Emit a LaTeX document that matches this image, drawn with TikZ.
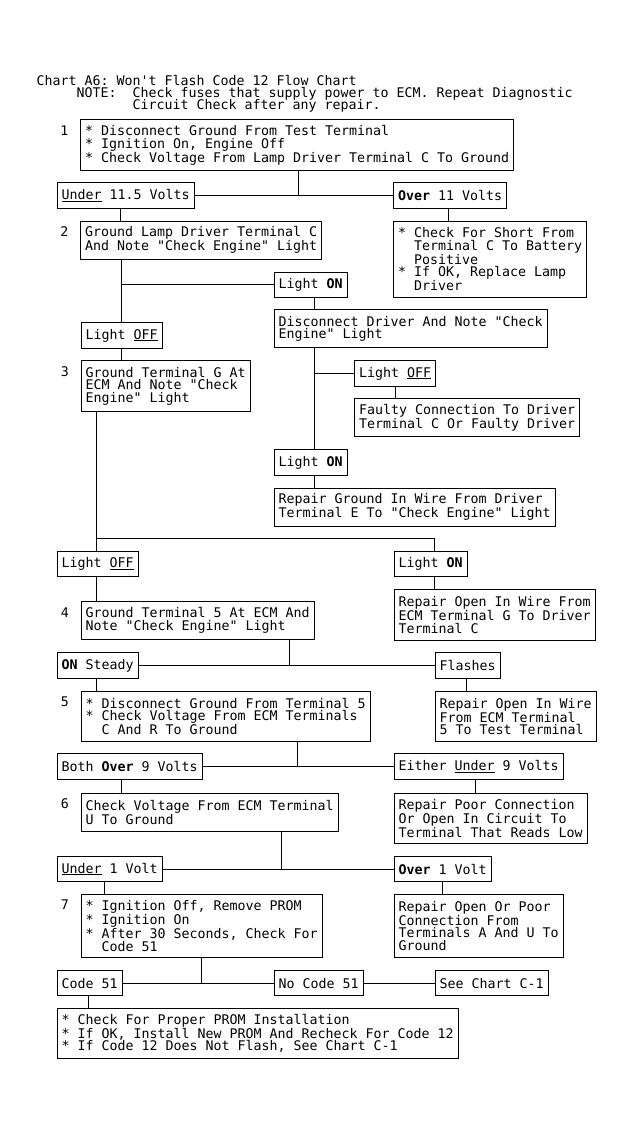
\documentclass[tikz,border=0pt]{standalone}
\usepackage{fontspec}
\newfontfamily\mf{DejaVu Sans Mono}
\usetikzlibrary{calc}
\newcommand\mfont{\mf\fontsize{13.29bp}{12.7bp}\selectfont\frenchspacing}
\newcommand\ind{\hspace*{16bp}}
\begin{document}
\begin{tikzpicture}[x=1bp,y=-1bp,
  box/.style={draw, line width=1bp, inner xsep=4.5bp, inner ysep=0pt, align=left, anchor=north west, font=\mfont},
  l1/.style={box, minimum height=25.2bp},
  l2/.style={box, minimum height=37.9bp},
  l3/.style={box, minimum height=50.6bp},
  l4/.style={box, minimum height=63.3bp},
  l5/.style={box, minimum height=76bp},
  num/.style={font=\mfont, inner sep=0pt, anchor=base},
  ttl/.style={font=\mfont, inner sep=0pt, anchor=base west},
  con/.style={line width=1bp}]
\fill[white] (0,0) rectangle (631,1134);
\useasboundingbox (0,0) rectangle (631,1134);

% title
\node[ttl] (t1) at (36.5,85.7) {Chart A6: Won't Flash Code 12 Flow Chart};
\node[ttl] (t2) at (76.5,97.6) {NOTE:\ind Check fuses that supply power to ECM. Repeat Diagnostic};
\node[ttl] (t3) at (132.5,109.4) {Circuit Check after any repair.};

% boxes
\node[l3] (b1) at (80,119.3) {* Disconnect Ground From Test Terminal\\{*} Ignition On, Engine Off\\{*} Check Voltage From Lamp Driver Terminal C To Ground};
\node[l1] (under1) at (56.5,182.3) {\underline{Under} 11.5 Volts};
\node[l1] (over1) at (393,182.3) {\textbf{Over} 11 Volts};
\node[l2] (b2) at (80,220.7) {Ground Lamp Driver Terminal C\\And Note "Check Engine" Light};
\node[l5] (r1) at (393,220.7) {* Check For Short From\\\ind Terminal C To Battery\\\ind Positive\\{*} If OK, Replace Lamp\\\ind Driver};
\node[l1] (lon1) at (273.5,271.7) {Light \textbf{ON}};
\node[l1] (loff1) at (80.5,322.3) {Light \underline{OFF}};
\node[l2] (disc) at (273.5,309.3) {Disconnect Driver And Note "Check\\Engine" Light};
\node[l3] (b3) at (80.5,360.3) {Ground Terminal G At\\ECM And Note "Check\\Engine" Light};
\node[l1] (loff2) at (354,360.3) {Light \underline{OFF}};
\node[l2] (faulty) at (354,398.3) {Faulty Connection To Driver\\Terminal C Or Faulty Driver};
\node[l1] (lon2) at (273.5,449.3) {Light \textbf{ON}};
\node[l2] (rground) at (273.5,487.7) {Repair Ground In Wire From Driver\\Terminal E To "Check Engine" Light};
\node[l1] (loff3) at (56.5,550.7) {Light \underline{OFF}};
\node[l1] (lon3) at (393.5,550.7) {Light \textbf{ON}};
\node[l2] (b4) at (80.5,601) {Ground Terminal 5 At ECM And\\Note "Check Engine" Light};
\node[l3] (ropen1) at (393.5,589.3) {Repair Open In Wire From\\ECM Terminal G To Driver\\Terminal C};
\node[l1] (onsteady) at (56.5,652.3) {\textbf{ON} Steady};
\node[l1] (flashes) at (434.5,652.3) {Flashes};
\node[l3] (b5) at (80.5,690.7) {* Disconnect Ground From Terminal 5\\{*} Check Voltage From ECM Terminals\\\ind C And R To Ground};
\node[l3] (ropen2) at (434.5,690.7) {Repair Open In Wire\\From ECM Terminal\\5 To Test Terminal};
\node[l1] (bothover) at (56.5,753.3) {Both \textbf{Over} 9 Volts};
\node[l1] (eitherunder) at (393.5,753.3) {Either \underline{Under} 9 Volts};
\node[l2] (b6) at (80.5,792.7) {Check Voltage From ECM Terminal\\U To Ground};
\node[l3] (rpoor) at (393.5,792.7) {Repair Poor Connection\\Or Open In Circuit To\\Terminal That Reads Low};
\node[l1] (under2) at (56.5,856) {\underline{Under} 1 Volt};
\node[l1] (over2) at (393.5,856) {\textbf{Over} 1 Volt};
\node[l4] (b7) at (80.5,893.7) {* Ignition Off, Remove PROM\\{*} Ignition On\\{*} After 30 Seconds, Check For\\\ind Code 51};
\node[l4] (ropen3) at (393.5,893.7) {Repair Open Or Poor\\Connection From\\Terminals A And U To\\Ground};
\node[l1] (code51) at (56.5,970) {Code 51};
\node[l1] (nocode) at (273.5,970) {No Code 51};
\node[l1] (seechart) at (434.5,970) {See Chart C-1};
\node[l3] (final) at (56.5,1007.7) {* Check For Proper PROM Installation\\{*} If OK, Install New PROM And Recheck For Code 12\\{*} If Code 12 Does Not Flash, See Chart C-1};

% step numbers
\node[num] (n1) at ($(b1.north west)+(-15.5,16.1)$) {1};
\node[num] (n2) at ($(b2.north west)+(-15.5,16.1)$) {2};
\node[num] (n3) at ($(b3.north west)+(-15.5,16.1)$) {3};
\node[num] (n4) at ($(b4.north west)+(-15.5,16.1)$) {4};
\node[num] (n5) at ($(b5.north west)+(-15.5,16.1)$) {5};
\node[num] (n6) at ($(b6.north west)+(-15.5,16.1)$) {6};
\node[num] (n7) at ($(b7.north west)+(-15.5,16.1)$) {7};

% junctions
\coordinate (j1) at (under1.east -| 298,0);
\coordinate (j2) at (96.7,538.3);
\coordinate (j3) at (434.8,538.3);
\coordinate (j4) at (onsteady.east -| 289.5,0);
\coordinate (j5) at (bothover.east -| 297.7,0);
\coordinate (j6) at (under2.east -| 281.6,0);
\coordinate (j7) at (code51.east -| 201.5,0);

% connectors
\draw[con] (b1.south -| j1) -- (j1);
\draw[con] (under1.east) -- (over1.west);
\draw[con] (under1.south -| 120.5,0) -- (b2.north -| 120.5,0);
\draw[con] (over1.south -| 448.5,0) -- (r1.north -| 448.5,0);
\draw[con] (b2.south -| loff1.north) -- (loff1.north);
\draw[con] (lon1.west -| loff1.north) -- (lon1.west);
\draw[con] (lon1.south -| 314,0) -- (disc.north -| 314,0);
\draw[con] (loff1.south) -- (b3.north -| loff1.south);
\draw[con] (disc.south -| 314,0) -- (lon2.north -| 314,0);
\draw[con] (loff2.west -| 314,0) -- (loff2.west);
\draw[con] (loff2.south) -- (faulty.north -| loff2.south);
\draw[con] (lon2.south -| 314,0) -- (rground.north -| 314,0);
\draw[con] (b3.south -| j2) -- (j2) -- (j3) -- (lon3.north -| j3);
\draw[con] (j2) -- (loff3.north -| j2);
\draw[con] (loff3.south -| j2) -- (b4.north -| j2);
\draw[con] (lon3.south -| j3) -- (ropen1.north -| j3);
\draw[con] (b4.south -| j4) -- (j4);
\draw[con] (onsteady.east) -- (flashes.west);
\draw[con] (onsteady.south -| j2) -- (b5.north -| j2);
\draw[con] (flashes.south -| 466.5,0) -- (ropen2.north -| 466.5,0);
\draw[con] (b5.south -| j5) -- (j5);
\draw[con] (bothover.east) -- (eitherunder.west);
\draw[con] (bothover.south -| 121,0) -- (b6.north -| 121,0);
\draw[con] (eitherunder.south -| 475,0) -- (rpoor.north -| 475,0);
\draw[con] (b6.south -| j6) -- (j6);
\draw[con] (under2.east) -- (over2.west);
\draw[con] (under2.south -| 104.6,0) -- (b7.north -| 104.6,0);
\draw[con] (over2.south -| 442,0) -- (ropen3.north -| 442,0);
\draw[con] (b7.south -| j7) -- (j7);
\draw[con] (code51.east) -- (nocode.west);
\draw[con] (nocode.east) -- (seechart.west);
\draw[con] (code51.south -| 88.5,0) -- (final.north -| 88.5,0);
\end{tikzpicture}
\end{document}
